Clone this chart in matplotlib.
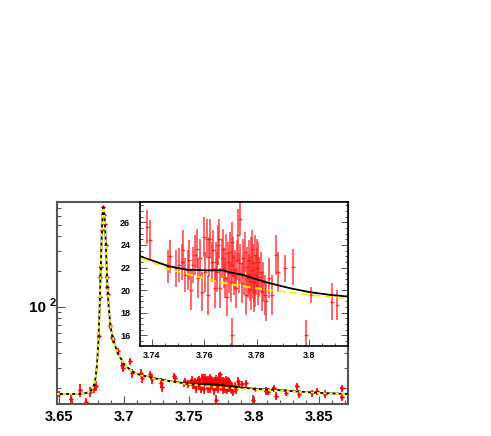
import matplotlib
matplotlib.use("Agg")
import matplotlib.pyplot as plt
from matplotlib.ticker import FixedLocator, MultipleLocator, NullFormatter, LogLocator, FixedFormatter

# ---------------- data ----------------
# main-plot scan points outside the inset window (x [GeV], counts, error)
peak_x = [3.6498, 3.6588, 3.6660, 3.6705, 3.6736, 3.6767, 3.6782, 3.6805, 3.6813, 3.6815,
          3.6818, 3.6826, 3.6834, 3.6838, 3.6846, 3.6851, 3.6859, 3.6864, 3.6869, 3.6875,
          3.6890, 3.6903, 3.6915, 3.6954, 3.6980, 3.6992, 3.7044, 3.7057, 3.7126, 3.7136,
          3.7198, 3.7211, 3.7280, 3.7288]
peak_y = [17.9, 16.2, 19.3, 15.2, 18.7, 20.2, 21.0, 56.3, 121, 180,
          219, 451, 625, 714, 613, 505, 336, 180, 148, 128,
          68.5, 55.2, 52.7, 41.7, 31.6, 30.0, 34.2, 26.9, 27.2, 24.3,
          26.3, 23.9, 22.3, 20.7]
peak_e = [1.0, 1.6, 2.3, 1.4, 1.8, 1.8, 2.0, 3.0, 5.0, 6.0,
          7.0, 10, 12, 13, 12, 11, 9, 6, 6, 5,
          4.0, 3.5, 3.5, 3.0, 2.5, 2.5, 2.5, 2.2, 2.2, 2.0,
          2.0, 2.0, 2.0, 2.0]

tail_x = [3.8148, 3.8167, 3.8244, 3.8326, 3.8344, 3.8442, 3.8485, 3.8544, 3.8672, 3.8672]
tail_y = [20.0, 17.2, 18.4, 20.9, 17.9, 18.1, 19.0, 17.9, 20.0, 17.0]
tail_e = [1.4, 1.3, 1.3, 1.5, 1.3, 1.3, 1.3, 1.3, 1.4, 1.3]

# psi(3770) region scan points (shown in inset and main plot)
scan_x = [3.7382, 3.7392, 3.7462, 3.7469, 3.7491, 3.7505, 3.7513, 3.7520, 3.7526, 3.7539,
          3.7543, 3.7549, 3.7558, 3.7564, 3.7571, 3.7577, 3.7584, 3.7590, 3.7599, 3.7603,
          3.7609, 3.7615, 3.7619, 3.7622, 3.7628, 3.7635, 3.7641, 3.7645, 3.7650, 3.7654,
          3.7657, 3.7660, 3.7666, 3.7670, 3.7675, 3.7679, 3.7683, 3.7688, 3.7692, 3.7696,
          3.7698, 3.7702, 3.7705, 3.7707, 3.7707, 3.7711, 3.7714, 3.7717, 3.7721, 3.7724,
          3.7730, 3.7734, 3.7737, 3.7737, 3.7743, 3.7747, 3.7752, 3.7756, 3.7759, 3.7765,
          3.7768, 3.7772, 3.7777, 3.7781, 3.7785, 3.7790, 3.7794, 3.7798, 3.7800, 3.7804,
          3.7807, 3.7810, 3.7816, 3.7819, 3.7826, 3.7832, 3.7838, 3.7849, 3.7858, 3.7874,
          3.7883, 3.7909, 3.7938, 3.7988, 3.8008, 3.8087, 3.8109,
          3.7771, 3.7775, 3.7779, 3.7783, 3.7787, 3.7792, 3.7795, 3.7802]
scan_y = [25.59, 24.42, 22.07, 23.01, 21.93, 22.22, 22.51, 23.54, 21.34, 21.78,
          22.66, 20.02, 22.22, 23.10, 23.68, 21.05, 22.80, 19.87, 24.71, 21.63,
          24.56, 19.58, 22.95, 24.56, 22.51, 23.54, 20.17, 22.51, 21.63, 23.98,
          24.56, 20.17, 22.80, 23.68, 21.93, 21.05, 23.25, 19.43, 22.51, 21.49,
          23.39, 20.75, 22.22, 16.06, 24.27, 22.95, 21.34, 21.78, 20.17, 22.66,
          24.86, 21.49, 22.36, 26.32, 20.61, 22.80, 21.34, 23.39, 19.58, 22.07,
          21.05, 22.66, 20.02, 21.78, 22.36, 20.75, 23.10, 21.34, 21.93, 20.46,
          22.51, 21.19, 21.63, 19.87, 20.75, 19.58, 19.00, 21.05, 19.58, 23.10,
          21.63, 21.93, 22.07, 16.06, 19.58, 18.99, 18.70,
          21.40, 20.80, 22.90, 23.60, 21.00, 19.80, 20.30, 22.80]
scan_e = [1.47, 1.76, 1.47, 1.47, 1.61, 1.47, 1.61, 1.76, 1.47, 1.76,
          1.76, 1.76, 1.61, 1.76, 1.76, 1.76, 1.76, 1.76, 1.76, 1.76,
          1.76, 1.76, 1.76, 1.76, 1.76, 1.76, 1.76, 1.76, 1.76, 1.76,
          1.76, 1.76, 1.76, 1.76, 1.76, 1.76, 1.76, 1.76, 1.76, 1.76,
          1.76, 1.76, 1.76, 1.47, 1.76, 1.76, 1.76, 1.76, 1.76, 1.76,
          2.35, 1.76, 1.76, 1.47, 1.76, 1.76, 1.76, 1.76, 1.76, 1.76,
          1.76, 1.76, 1.76, 1.76, 1.76, 1.76, 1.76, 1.76, 1.76, 1.76,
          1.76, 1.76, 1.76, 1.76, 1.76, 1.76, 1.76, 1.76, 1.76, 1.76,
          1.76, 1.17, 1.61, 1.32, 0.73, 1.61, 1.32,
          1.76, 1.76, 1.76, 1.76, 1.76, 1.76, 1.76, 1.76]

# fitted curves: total (black) and without psi(3770) (yellow)
curve_x = [3.648, 3.660, 3.668, 3.672, 3.675, 3.677, 3.678, 3.679, 3.680, 3.681,
           3.6815, 3.682, 3.6825, 3.683, 3.6835, 3.684, 3.6845, 3.685, 3.6855, 3.686,
           3.6865, 3.687, 3.688, 3.689, 3.690, 3.692, 3.695, 3.700, 3.705, 3.710,
           3.720, 3.7354, 3.7462, 3.7533, 3.7609, 3.7673, 3.7698, 3.7749, 3.7800, 3.7851,
           3.7928, 3.8004, 3.8081, 3.8151, 3.830, 3.850, 3.872]
curve_total = [17.9, 17.9, 18.0, 18.4, 19.3, 21.5, 25, 32, 48, 95,
               150, 230, 370, 520, 650, 705, 660, 540, 420, 300,
               210, 150, 100, 75, 62, 50, 40, 32, 28.5, 26.5,
               24.8, 23.0, 22.13, 21.81, 21.75, 21.75, 21.57, 21.34, 20.96, 20.61,
               20.17, 19.82, 19.58, 19.43, 18.9, 18.3, 17.9]
curve_bkg = [17.9, 17.9, 18.0, 18.4, 19.3, 21.5, 25, 32, 48, 95,
             150, 230, 370, 520, 650, 705, 660, 540, 420, 300,
             210, 150, 100, 75, 62, 50, 40, 32, 28.5, 26.4,
             24.6, 22.86, 21.87, 21.43, 20.99, 20.64, 20.52, 20.34, 20.17, 19.99,
             19.79, 19.58, 19.40, 19.26, 18.8, 18.25, 17.85]

main_xticks = [3.65, 3.70, 3.75, 3.80, 3.85]
main_xlabels = ["3.65", "3.7", "3.75", "3.8", "3.85"]
inset_xticks = [3.74, 3.76, 3.78, 3.80]
inset_xlabels = ["3.74", "3.76", "3.78", "3.8"]
inset_yticks = [16, 18, 20, 22, 24, 26]

FONT = "Liberation Sans"
W, H = 491, 436

fig = plt.figure(figsize=(W / 100, H / 100), dpi=100)
fig.patch.set_facecolor("white")

def box(l, t, r, b):
    return [l / W, 1 - b / H, (r - l) / W, (b - t) / H]

# ---------------- main axes ----------------
ax = fig.add_axes(box(56.7, 202, 348, 404))
ax.set_yscale("log")
ax.set_xlim(3.648, 3.8721)
ax.set_ylim(14.7, 785)

ax.errorbar(peak_x + scan_x + tail_x, peak_y + scan_y + tail_y, yerr=peak_e + scan_e + tail_e,
            xerr=0.0009, fmt="P", ms=3.2, mew=0, color="#ff0000", ecolor="#ff0000",
            elinewidth=1.2, capsize=0, zorder=2)
ax.plot(curve_x, curve_total, color="black", lw=1.3, zorder=3)
ax.plot(curve_x, curve_bkg, color="#ffff00", lw=1.3, ls=(0, (1.8, 1.6)), zorder=4)

ax.xaxis.set_major_locator(FixedLocator(main_xticks))
ax.xaxis.set_major_formatter(FixedFormatter(main_xlabels))
ax.xaxis.set_minor_locator(MultipleLocator(0.01))
ax.yaxis.set_major_locator(FixedLocator([100]))
ax.yaxis.set_major_formatter(NullFormatter())
ax.yaxis.set_minor_locator(LogLocator(base=10, subs=[2, 3, 4, 5, 6, 7, 8, 9]))
ax.yaxis.set_minor_formatter(NullFormatter())
ax.tick_params(which="both", direction="in", right=True, top=False, color="#555555", width=0.8)
ax.tick_params(which="major", length=6, pad=4)
ax.tick_params(which="minor", length=3)
for lab in ax.get_xticklabels():
    lab.set_fontfamily(FONT)
    lab.set_fontweight("bold")
    lab.set_fontsize(10.5)
for s in ax.spines.values():
    s.set_color("#555555")
    s.set_linewidth(1.5)

fig.text(45.5 / W, 1 - 308 / H, "10", ha="right", va="center",
         fontfamily=FONT, fontweight="bold", fontsize=11)
fig.text(50 / W, 1 - 303.5 / H, "2", ha="left", va="center",
         fontfamily=FONT, fontweight="bold", fontsize=8)

# ---------------- inset ----------------
ins = fig.add_axes(box(140, 202, 348, 345.5))
ins.set_xlim(3.7354, 3.8150)
ins.set_ylim(15.1, 27.8)
ins.errorbar(scan_x, scan_y, yerr=scan_e, fmt="_", ms=2.5, color="#ff1010",
             ecolor="#ff3030", elinewidth=1.3, capsize=0, alpha=0.8, zorder=2)
ins.plot(curve_x, curve_total, color="black", lw=1.3, zorder=3)
ins.plot(curve_x, curve_bkg, color="#ffee00", lw=1.3, ls=(0, (4, 2.5)), zorder=4)

ins.xaxis.set_major_locator(FixedLocator(inset_xticks))
ins.xaxis.set_major_formatter(FixedFormatter(inset_xlabels))
ins.xaxis.set_minor_locator(MultipleLocator(0.005))
ins.yaxis.set_major_locator(FixedLocator(inset_yticks))
ins.yaxis.set_minor_locator(MultipleLocator(0.5))
ins.tick_params(which="both", direction="in", right=True, top=False, color="#555555", width=0.7)
ins.tick_params(which="major", length=5, pad=4)
ins.tick_params(which="minor", length=2.5)
ins.tick_params(axis="y", which="major", pad=7)
for lab in ins.get_xticklabels() + ins.get_yticklabels():
    lab.set_fontfamily(FONT)
    lab.set_fontweight("bold")
    lab.set_fontsize(6.5)
for s in ins.spines.values():
    s.set_color("black")
    s.set_linewidth(1.2)

fig.savefig("out.png", dpi=100)
